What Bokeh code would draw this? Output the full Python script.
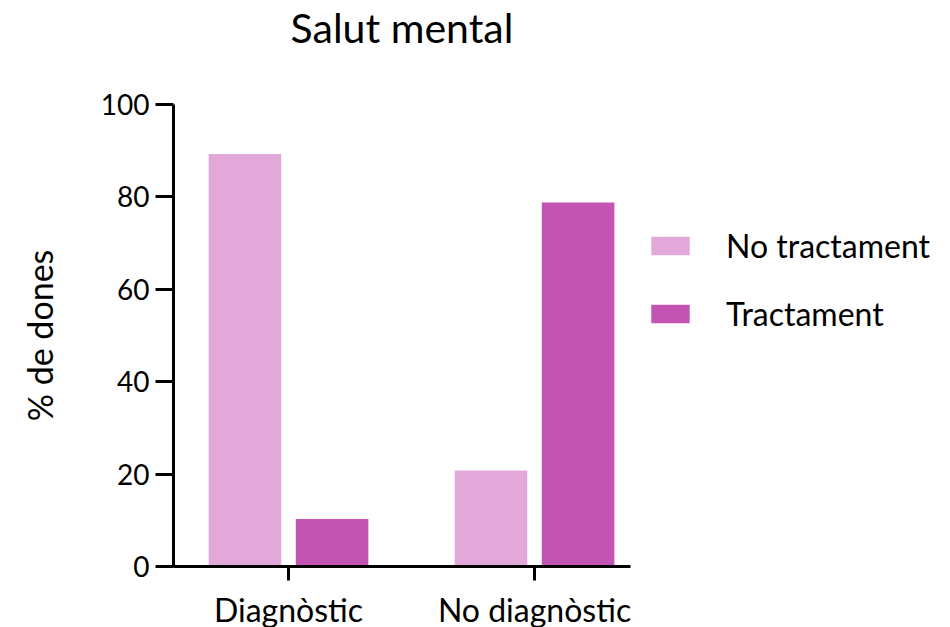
from bokeh.plotting import figure
from bokeh.models import ColumnDataSource, Legend, LegendItem, FixedTicker, Range1d, Title
from bokeh.embed import file_html
from bokeh.resources import INLINE

title_text = "Salut mental"
categories = ["Diagnòstic", "No diagnòstic"]
series = ["No tractament", "Tractament"]
no_tractament = [89.3, 20.8]
tractament = [10.3, 78.8]
colors = ["#E1A8D9", "#C454B2"]
y_ticks = [0, 20, 40, 60, 80, 100]

FONT = "Lato"

cat_pos = [1, 2]
offset = 0.177
bw = 0.295

p = figure(width=942, height=619, output_backend="svg", toolbar_location=None,
           x_range=Range1d(0.5325, 2.39), y_range=Range1d(0, 100),
           title=title_text, min_border_left=173, min_border_right=312,
           min_border_top=104, min_border_bottom=53)
p.frame_width = 457
p.frame_height = 462

src1 = ColumnDataSource(dict(x=[c - offset for c in cat_pos], top=no_tractament))
src2 = ColumnDataSource(dict(x=[c + offset for c in cat_pos], top=tractament))
r1 = p.vbar(x="x", top="top", width=bw, source=src1, fill_color=colors[0], line_color=None)
r2 = p.vbar(x="x", top="top", width=bw, source=src2, fill_color=colors[1], line_color=None)

# spacer between title and frame
p.add_layout(Title(text=" ", text_font_size="10px", standoff=40), "above")

p.title.text_font = FONT
p.title.text_font_size = "41px"
p.title.text_font_style = "normal"
p.title.align = "center"
p.title.text_color = "#000000"
p.title.standoff = 0

p.grid.visible = False
p.outline_line_color = None
p.background_fill_color = "white"
p.border_fill_color = "white"

for ax in (p.xaxis[0], p.yaxis[0]):
    ax.axis_line_width = 3
    ax.axis_line_color = "black"
    ax.major_tick_line_width = 3
    ax.major_tick_line_color = "black"
    ax.minor_tick_line_color = None
    ax.major_tick_in = 0
    ax.major_label_text_font = FONT
    ax.major_label_text_color = "black"

p.yaxis.ticker = FixedTicker(ticks=y_ticks)
p.yaxis.major_tick_out = 18
p.yaxis.major_label_text_font_size = "28px"
p.yaxis.major_label_standoff = 6
p.yaxis.axis_label = "% de dones"
p.yaxis.axis_label_text_font = FONT
p.yaxis.axis_label_text_font_size = "34px"
p.yaxis.axis_label_text_font_style = "normal"
p.yaxis.axis_label_text_color = "black"
p.yaxis.axis_label_standoff = 38

p.xaxis.ticker = FixedTicker(ticks=cat_pos)
p.xaxis.major_label_overrides = {c: t for c, t in zip(cat_pos, categories)}
p.xaxis.major_tick_out = 14
p.xaxis.major_label_text_font_size = "32px"
p.xaxis.major_label_standoff = 9

legend = Legend(items=[LegendItem(label=series[0], renderers=[r1]),
                       LegendItem(label=series[1], renderers=[r2])],
                location=(16, 233), orientation="vertical")
legend.glyph_width = 48
legend.glyph_height = 23
legend.label_height = 23
legend.label_standoff = 32
legend.spacing = 29
legend.padding = 0
legend.margin = 0
legend.border_line_color = None
legend.background_fill_alpha = 0
legend.label_text_font = FONT
legend.label_text_font_size = "32px"
legend.label_text_color = "black"
p.add_layout(legend, "right")

open("out.html", "w").write(file_html(p, INLINE))
